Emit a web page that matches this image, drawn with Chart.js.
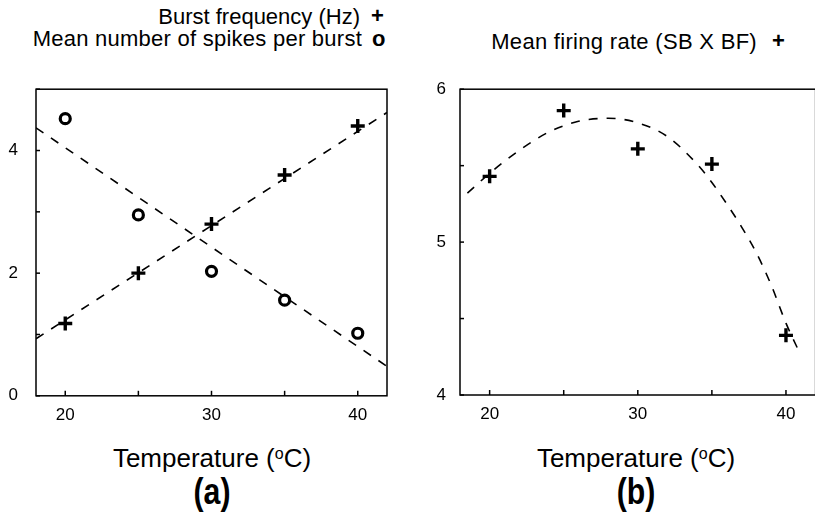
<!DOCTYPE html>
<html>
<head>
<meta charset="utf-8">
<script src="https://cdn.jsdelivr.net/npm/chart.js@4.4.0/dist/chart.umd.min.js"></script>
<style>
  body { margin: 0; background: #fff; width: 815px; height: 526px; position: relative; overflow: hidden;
         font-family: "Liberation Sans", Arial, sans-serif; color: #000; }
  .txt { position: absolute; white-space: nowrap; line-height: 22px; font-size: 22px; }
  .mark { position: absolute; font-weight: bold; font-size: 22px; line-height: 22px; }
  .xtitle { position: absolute; font-size: 26px; line-height: 26px; text-align: center; width: 300px; }
  .xtitle sup { font-size: 16px; vertical-align: 8px; line-height: 0; }
  .panel { position: absolute; font-weight: bold; font-size: 36px; line-height: 36px; text-align: center; width: 100px;
           transform: scaleX(0.84); }
  canvas { position: absolute; }
</style>
</head>
<body>
<div class="txt" style="right:455px; top:6px;">Burst frequency (Hz)</div>
<div class="mark" style="left:371px; top:5px;">+</div>
<div class="txt" style="right:453px; top:28px; letter-spacing:0.25px;">Mean number of spikes per burst</div>
<div class="mark" style="left:372px; top:28px;">o</div>
<div class="txt" style="right:58px; top:31px; letter-spacing:0.3px;">Mean firing rate (SB X BF)</div>
<div class="mark" style="left:772px; top:30px;">+</div>

<div id="boxA" style="position:absolute; left:0; top:61px; width:400px; height:363px;"><canvas id="chartA"></canvas></div>
<div id="boxB" style="position:absolute; left:420px; top:65px; width:406px; height:356px;"><canvas id="chartB"></canvas></div>

<div class="xtitle" style="left:62px; top:445px;">Temperature (<sup>o</sup>C)</div>
<div class="xtitle" style="left:486px; top:445px;">Temperature (<sup>o</sup>C)</div>
<div class="panel" style="left:162px; top:474px;">(a)</div>
<div class="panel" style="left:586px; top:474px;">(b)</div>

<script>
// panel (a)
const temps = [20, 25, 30, 35, 40];
const burstFreq = [1.18, 2.0, 2.8, 3.6, 4.4];
const spikesPerBurst = [4.52, 2.95, 2.03, 1.56, 1.02];
const burstFitX = [18, 42];
const burstFitY = [0.93, 4.62];
const spikesFitX = [18, 42];
const spikesFitY = [4.37, 0.48];

// panel (b)
const firingRate = [5.43, 5.86, 5.61, 5.51, 4.39];
const rateFitX = [18.5, 20, 22, 24, 26, 28, 30, 32, 34, 35, 36, 37, 38, 39, 40, 41];
const rateFitY = [5.32, 5.45, 5.6, 5.72, 5.79, 5.81, 5.78, 5.69, 5.51, 5.39, 5.25, 5.1, 4.93, 4.72, 4.47, 4.26];

const xTicks = [20, 25, 30, 35, 40];
const xLabels = [20, 30, 40];

function pts(xs, ys) {
    return xs.map((x, i) => ({ x: x, y: ys[i] }));
}

// box around plot area plus inward tick marks
const frame = {
    id: 'frame',
    afterDraw(chart) {
        const ctx = chart.ctx;
        const a = chart.chartArea;
        ctx.save();
        ctx.strokeStyle = '#000';
        ctx.lineWidth = 1.5;
        ctx.strokeRect(a.left, a.top, a.right - a.left, a.bottom - a.top);
        chart.scales.x.ticks.forEach(t => {
            const px = chart.scales.x.getPixelForValue(t.value);
            ctx.beginPath();
            ctx.moveTo(px, a.bottom);
            ctx.lineTo(px, a.bottom - 5);
            ctx.stroke();
        });
        chart.scales.y.ticks.forEach(t => {
            const py = chart.scales.y.getPixelForValue(t.value);
            ctx.beginPath();
            ctx.moveTo(a.left, py);
            ctx.lineTo(a.left + 4, py);
            ctx.stroke();
        });
        ctx.restore();
    }
};

const tickFont = { family: '"Liberation Sans", Arial, sans-serif', size: 17 };

function makeScales(yMin, yMax, yStep, yLabel, yWidth, yPad) {
    return {
        x: {
            type: 'linear', min: 18, max: 42,
            afterBuildTicks: s => { s.ticks = xTicks.map(v => ({ value: v })); },
            afterFit: s => { s.height = 26; },
            grid: { display: false, drawTicks: false },
            border: { display: false },
            ticks: {
                color: '#000', font: tickFont, padding: 9, maxRotation: 0,
                callback: v => xLabels.includes(v) ? String(v) : ''
            }
        },
        y: {
            type: 'linear', min: yMin, max: yMax,
            afterFit: s => { s.width = yWidth; },
            grid: { display: false, drawTicks: false },
            border: { display: false },
            ticks: {
                stepSize: yStep, color: '#000', font: tickFont, padding: yPad,
                callback: v => yLabel(v) ? String(v) : ''
            }
        }
    };
}

const baseOpts = {
    responsive: true,
    maintainAspectRatio: false,
    animation: false,
    plugins: { legend: { display: false }, tooltip: { enabled: false } }
};

new Chart(document.getElementById('chartA'), {
    type: 'scatter',
    data: {
        datasets: [
            { data: pts(burstFitX, burstFitY), showLine: true, borderColor: '#000', borderWidth: 1.6,
              borderDash: [9, 9], pointRadius: 0 },
            { data: pts(spikesFitX, spikesFitY), showLine: true, borderColor: '#000', borderWidth: 1.6,
              borderDash: [9, 9], pointRadius: 0 },
            { data: pts(temps, burstFreq), pointStyle: 'cross', pointRadius: 7, borderWidth: 3.4,
              borderColor: '#000', backgroundColor: '#000' },
            { data: pts(temps, spikesPerBurst), pointStyle: 'circle', pointRadius: 5, borderWidth: 3.2,
              borderColor: '#000', backgroundColor: '#fff' }
        ]
    },
    options: Object.assign({}, baseOpts, {
        layout: { padding: { top: 9, right: 13, left: 0, bottom: 0 } },
        scales: makeScales(0, 5, 1, v => v % 2 === 0, 36, 18)
    }),
    plugins: [frame]
});

new Chart(document.getElementById('chartB'), {
    type: 'scatter',
    data: {
        datasets: [
            { data: pts(rateFitX, rateFitY), showLine: true, borderColor: '#000', borderWidth: 1.6,
              borderDash: [9, 9], pointRadius: 0, tension: 0.4, cubicInterpolationMode: 'monotone' },
            { data: pts(temps, firingRate), pointStyle: 'cross', pointRadius: 7, borderWidth: 3.4,
              borderColor: '#000', backgroundColor: '#000' }
        ]
    },
    options: Object.assign({}, baseOpts, {
        layout: { padding: { top: 8, right: 0, left: 0, bottom: 0 } },
        scales: makeScales(4, 6, 0.5, v => Number.isInteger(v), 40, 14)
    }),
    plugins: [frame]
});
</script>
</body>
</html>
